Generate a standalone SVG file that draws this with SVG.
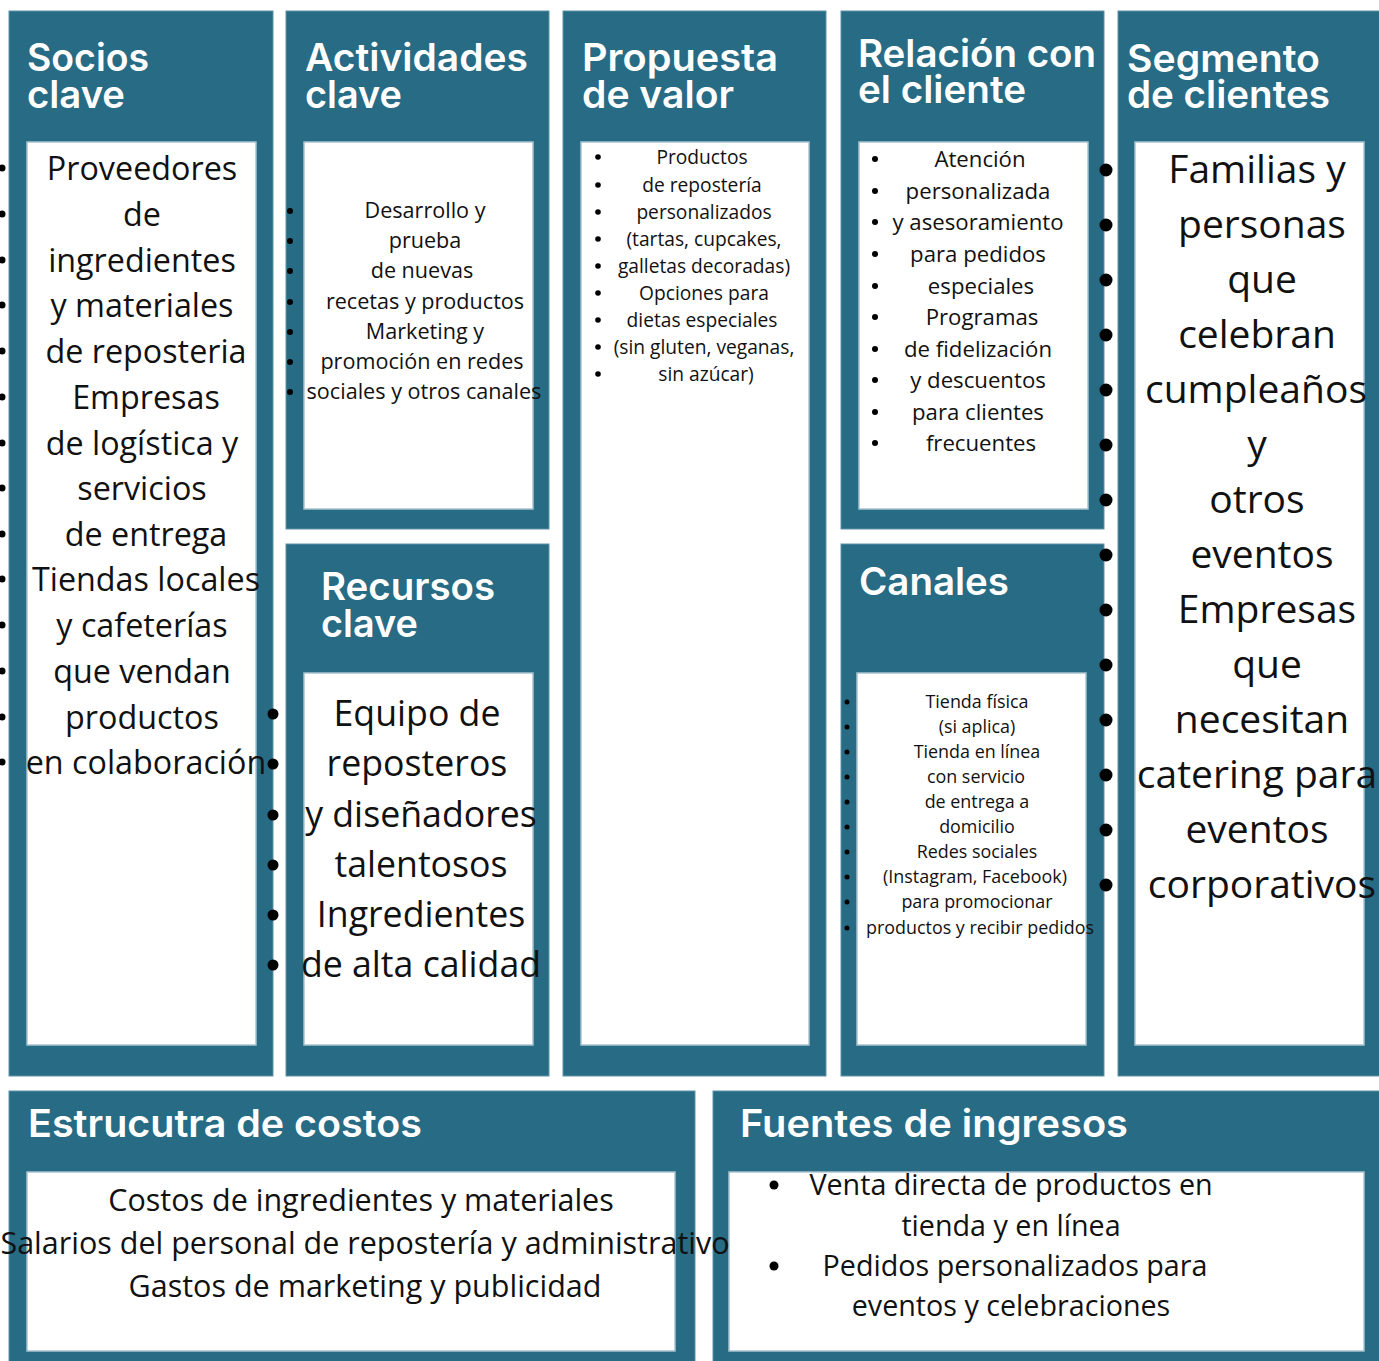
<svg xmlns="http://www.w3.org/2000/svg" width="1379" height="1361" viewBox="0 0 1379 1361">
<style>
.panel{fill:#276b84;stroke:#5e93a7;stroke-width:1}
.box{fill:#ffffff;stroke:#a8c3cf;stroke-width:1.5}
.title{font-family:Inter,"Noto Sans","Liberation Sans",sans-serif;font-weight:600;fill:#ffffff;font-size:38px}
.body{font-family:"Open Sans","Noto Sans","Liberation Sans",sans-serif;fill:#111111;text-anchor:middle}
.dot{fill:#000000}
</style>
<rect x="0" y="0" width="1379" height="1361" fill="#ffffff"/>

<g id="socios-clave">
<rect class="panel" x="9" y="11" width="264" height="1065"/>
<rect class="box" x="27" y="142" width="229" height="903"/>
<text class="title" x="27" y="71" textLength="122" lengthAdjust="spacingAndGlyphs">Socios</text>
<text class="title" x="27" y="108" textLength="98" lengthAdjust="spacingAndGlyphs">clave</text>
<g class="body" font-size="32.3">
<text x="142" y="180">Proveedores</text>
<text x="142" y="226">de</text>
<text x="142" y="272">ingredientes</text>
<text x="142" y="317">y materiales</text>
<text x="146" y="363">de reposteria</text>
<text x="146" y="409">Empresas</text>
<text x="142" y="455">de logística y</text>
<text x="142" y="500">servicios</text>
<text x="146" y="546">de entrega</text>
<text x="146" y="591">Tiendas locales</text>
<text x="142" y="637">y cafeterías</text>
<text x="142" y="683">que vendan</text>
<text x="142" y="729">productos</text>
<text x="146" y="774">en colaboración</text>
</g>
<g class="dot">
<circle cx="2" cy="168" r="3.5"/><circle cx="2" cy="214" r="3.5"/><circle cx="2" cy="260" r="3.5"/><circle cx="2" cy="305" r="3.5"/><circle cx="2" cy="351" r="3.5"/><circle cx="2" cy="397" r="3.5"/><circle cx="2" cy="443" r="3.5"/><circle cx="2" cy="488" r="3.5"/><circle cx="2" cy="534" r="3.5"/><circle cx="2" cy="579" r="3.5"/><circle cx="2" cy="625" r="3.5"/><circle cx="2" cy="671" r="3.5"/><circle cx="2" cy="717" r="3.5"/><circle cx="2" cy="762" r="3.5"/>
</g>
</g>

<g id="actividades-clave">
<rect class="panel" x="286" y="11" width="263" height="518"/>
<rect class="box" x="304" y="142" width="229" height="367"/>
<text class="title" x="305" y="71" textLength="223" lengthAdjust="spacingAndGlyphs">Actividades</text>
<text class="title" x="305" y="108" textLength="97" lengthAdjust="spacingAndGlyphs">clave</text>
<g class="body" font-size="21.6">
<text x="425" y="218">Desarrollo y</text>
<text x="425" y="248">prueba</text>
<text x="422" y="278">de nuevas</text>
<text x="425" y="309">recetas y productos</text>
<text x="425" y="339">Marketing y</text>
<text x="422" y="369">promoción en redes</text>
<text x="424" y="399">sociales y otros canales</text>
</g>
<g class="dot">
<circle cx="290" cy="211" r="3"/><circle cx="290" cy="241" r="3"/><circle cx="290" cy="271" r="3"/><circle cx="290" cy="302" r="3"/><circle cx="290" cy="332" r="3"/><circle cx="290" cy="362" r="3"/><circle cx="290" cy="392" r="3"/>
</g>
</g>

<g id="recursos-clave">
<rect class="panel" x="286" y="544" width="263" height="532"/>
<rect class="box" x="304" y="673" width="229" height="372"/>
<text class="title" x="321" y="600" textLength="174" lengthAdjust="spacingAndGlyphs">Recursos</text>
<text class="title" x="321" y="637" textLength="97" lengthAdjust="spacingAndGlyphs">clave</text>
<g class="body" font-size="35.7">
<text x="417" y="726">Equipo de</text>
<text x="417" y="776">reposteros</text>
<text x="421" y="827">y diseñadores</text>
<text x="421" y="877">talentosos</text>
<text x="421" y="927">Ingredientes</text>
<text x="421" y="977">de alta calidad</text>
</g>
<g class="dot">
<circle cx="273" cy="714" r="5.5"/><circle cx="273" cy="764" r="5.5"/><circle cx="273" cy="815" r="5.5"/><circle cx="273" cy="865" r="5.5"/><circle cx="273" cy="915" r="5.5"/><circle cx="273" cy="965" r="5.5"/>
</g>
</g>

<g id="propuesta-de-valor">
<rect class="panel" x="563" y="11" width="263" height="1065"/>
<rect class="box" x="581" y="142" width="228" height="903"/>
<text class="title" x="582" y="71" textLength="196" lengthAdjust="spacingAndGlyphs">Propuesta</text>
<text class="title" x="582" y="108" textLength="152" lengthAdjust="spacingAndGlyphs">de valor</text>
<g class="body" font-size="19.2">
<text x="702" y="163.5">Productos</text>
<text x="702" y="191.5">de repostería</text>
<text x="704" y="218.5">personalizados</text>
<text x="704" y="245.5">(tartas, cupcakes,</text>
<text x="704" y="272.5">galletas decoradas)</text>
<text x="704" y="299.5">Opciones para</text>
<text x="702" y="326.5">dietas especiales</text>
<text x="704" y="353.5">(sin gluten, veganas,</text>
<text x="706" y="380.5">sin azúcar)</text>
</g>
<g class="dot">
<circle cx="598" cy="157" r="2.8"/><circle cx="598" cy="185" r="2.8"/><circle cx="598" cy="212" r="2.8"/><circle cx="598" cy="239" r="2.8"/><circle cx="598" cy="266" r="2.8"/><circle cx="598" cy="293" r="2.8"/><circle cx="598" cy="320" r="2.8"/><circle cx="598" cy="347" r="2.8"/><circle cx="598" cy="374" r="2.8"/>
</g>
</g>

<g id="relacion-con-el-cliente">
<rect class="panel" x="841" y="11" width="263" height="518"/>
<rect class="box" x="859" y="142" width="229" height="367"/>
<text class="title" x="858" y="67" font-size="36" textLength="238" lengthAdjust="spacingAndGlyphs">Relación con</text>
<text class="title" x="858" y="103" font-size="36" textLength="168" lengthAdjust="spacingAndGlyphs">el cliente</text>
<g class="body" font-size="22.2">
<text x="980" y="166.5">Atención</text>
<text x="978" y="198.5">personalizada</text>
<text x="978" y="229.5">y asesoramiento</text>
<text x="978" y="261.5">para pedidos</text>
<text x="981" y="293.5">especiales</text>
<text x="982" y="324.5">Programas</text>
<text x="978" y="356.5">de fidelización</text>
<text x="978" y="387.5">y descuentos</text>
<text x="978" y="419.5">para clientes</text>
<text x="981" y="450.5">frecuentes</text>
</g>
<g class="dot">
<circle cx="875" cy="159" r="3"/><circle cx="875" cy="191" r="3"/><circle cx="875" cy="222" r="3"/><circle cx="875" cy="254" r="3"/><circle cx="875" cy="286" r="3"/><circle cx="875" cy="317" r="3"/><circle cx="875" cy="349" r="3"/><circle cx="875" cy="380" r="3"/><circle cx="875" cy="412" r="3"/><circle cx="875" cy="443" r="3"/>
</g>
</g>

<g id="canales">
<rect class="panel" x="841" y="544" width="263" height="532"/>
<rect class="box" x="857" y="673" width="229" height="372"/>
<text class="title" x="859" y="595" textLength="150" lengthAdjust="spacingAndGlyphs">Canales</text>
<g class="body" font-size="17.9">
<text x="977" y="708">Tienda física</text>
<text x="977" y="733">(si aplica)</text>
<text x="977" y="758">Tienda en línea</text>
<text x="976" y="783">con servicio</text>
<text x="977" y="808">de entrega a</text>
<text x="977" y="833">domicilio</text>
<text x="977" y="858">Redes sociales</text>
<text x="975" y="883">(Instagram, Facebook)</text>
<text x="977" y="908">para promocionar</text>
<text x="980" y="934">productos y recibir pedidos</text>
</g>
<g class="dot">
<circle cx="847" cy="702" r="2.5"/><circle cx="847" cy="727" r="2.5"/><circle cx="847" cy="752" r="2.5"/><circle cx="847" cy="777" r="2.5"/><circle cx="847" cy="802" r="2.5"/><circle cx="847" cy="827" r="2.5"/><circle cx="847" cy="852" r="2.5"/><circle cx="847" cy="877" r="2.5"/><circle cx="847" cy="902" r="2.5"/><circle cx="847" cy="928" r="2.5"/>
</g>
</g>

<g id="segmento-de-clientes">
<rect class="panel" x="1118" y="11" width="262" height="1065"/>
<rect class="box" x="1135" y="142" width="229" height="903"/>
<text class="title" x="1127" y="72" textLength="193" lengthAdjust="spacingAndGlyphs">Segmento</text>
<text class="title" x="1127" y="108" textLength="203" lengthAdjust="spacingAndGlyphs">de clientes</text>
<g class="body" font-size="39">
<text x="1257" y="183">Familias y</text>
<text x="1262" y="238">personas</text>
<text x="1262" y="293">que</text>
<text x="1257" y="348">celebran</text>
<text x="1256" y="403">cumpleaños</text>
<text x="1257" y="458">y</text>
<text x="1257" y="513">otros</text>
<text x="1262" y="568">eventos</text>
<text x="1267" y="623">Empresas</text>
<text x="1267" y="678">que</text>
<text x="1262" y="733">necesitan</text>
<text x="1257" y="788">catering para</text>
<text x="1257" y="843">eventos</text>
<text x="1262" y="898">corporativos</text>
</g>
<g class="dot">
<circle cx="1106" cy="170" r="6.5"/><circle cx="1106" cy="225" r="6.5"/><circle cx="1106" cy="280" r="6.5"/><circle cx="1106" cy="335" r="6.5"/><circle cx="1106" cy="390" r="6.5"/><circle cx="1106" cy="445" r="6.5"/><circle cx="1106" cy="500" r="6.5"/><circle cx="1106" cy="555" r="6.5"/><circle cx="1106" cy="610" r="6.5"/><circle cx="1106" cy="665" r="6.5"/><circle cx="1106" cy="720" r="6.5"/><circle cx="1106" cy="775" r="6.5"/><circle cx="1106" cy="830" r="6.5"/><circle cx="1106" cy="885" r="6.5"/>
</g>
</g>

<g id="fuentes-de-ingresos">
<rect class="panel" x="713" y="1091" width="667" height="271"/>
<rect class="box" x="729" y="1172" width="635" height="179"/>
<text class="title" x="740" y="1137" textLength="388" lengthAdjust="spacingAndGlyphs">Fuentes de ingresos</text>
<g class="body" font-size="28.7">
<text x="1011" y="1195">Venta directa de productos en</text>
<text x="1011" y="1236">tienda y en línea</text>
<text x="1015" y="1276">Pedidos personalizados para</text>
<text x="1011" y="1316">eventos y celebraciones</text>
</g>
<g class="dot">
<circle cx="774" cy="1185" r="4.5"/><circle cx="774" cy="1266" r="4.5"/>
</g>
</g>

<g id="estructura-de-costos">
<rect class="panel" x="9" y="1091" width="686" height="271"/>
<rect class="box" x="27" y="1172" width="648" height="179"/>
<text class="title" x="28" y="1137" textLength="394" lengthAdjust="spacingAndGlyphs">Estrucutra de costos</text>
<g class="body" font-size="30.5">
<text x="361" y="1211">Costos de ingredientes y materiales</text>
<text x="365" y="1254">Salarios del personal de repostería y administrativo</text>
<text x="365" y="1297">Gastos de marketing y publicidad</text>
</g>
</g>

<g id="connectors"></g>
</svg>
